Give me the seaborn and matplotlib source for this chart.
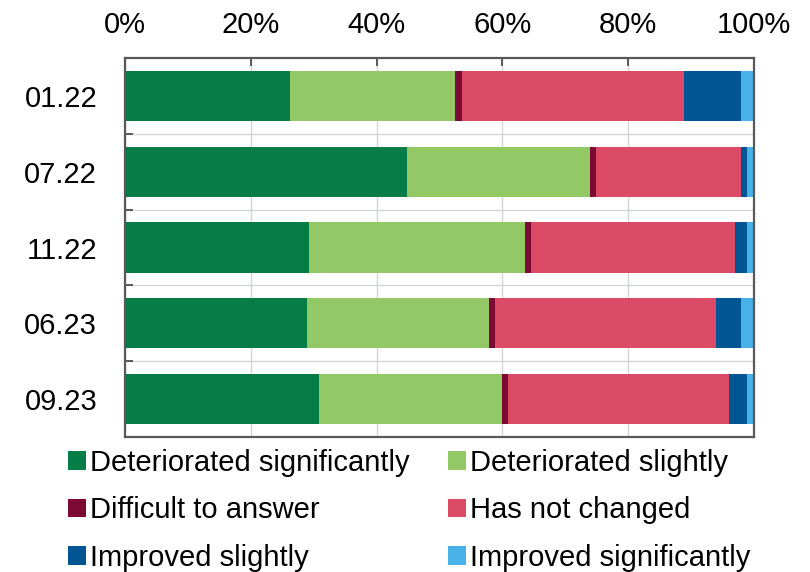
import numpy as np
import pandas as pd
import matplotlib
matplotlib.use("Agg")
import matplotlib.pyplot as plt
from matplotlib.patches import Patch
from matplotlib.ticker import FixedLocator, PercentFormatter
import seaborn as sns

# Survey waves
periods = ["01.22", "07.22", "11.22", "06.23", "09.23"]

# Share of answers per wave, %
deteriorated_significantly = [26.2, 44.9, 29.2, 28.9, 30.9]
deteriorated_slightly = [26.2, 29.0, 34.4, 29.0, 29.1]
difficult_to_answer = [1.1, 1.0, 1.0, 1.0, 0.9]
has_not_changed = [35.4, 23.1, 32.3, 35.1, 35.1]
improved_slightly = [9.0, 0.9, 2.0, 3.9, 2.9]
improved_significantly = [2.1, 1.1, 1.1, 2.1, 1.1]

answers = [
    "Deteriorated significantly",
    "Deteriorated slightly",
    "Difficult to answer",
    "Has not changed",
    "Improved slightly",
    "Improved significantly",
]
colors = ["#067D46", "#93C867", "#7C0A33", "#DC4B65", "#005592", "#48B1E8"]

shares = pd.DataFrame(
    {
        answers[0]: deteriorated_significantly,
        answers[1]: deteriorated_slightly,
        answers[2]: difficult_to_answer,
        answers[3]: has_not_changed,
        answers[4]: improved_slightly,
        answers[5]: improved_significantly,
    },
    index=periods,
)
# normalise every wave to 100 %
shares = shares.div(shares.sum(axis=1), axis=0) * 100
cumulative = shares.cumsum(axis=1)

sns.set_theme(style="white")
plt.rcParams["font.family"] = ["Liberation Sans", "DejaVu Sans"]

fig = plt.figure(figsize=(8.1, 5.72), dpi=100)
ax = fig.add_axes([0.1543, 0.236, 0.7766, 0.6626])

# stacked bars: draw running totals from the outermost segment inwards
for answer, color in reversed(list(zip(answers, colors))):
    df = pd.DataFrame({"period": periods, "value": cumulative[answer].values})
    sns.barplot(
        data=df, x="value", y="period", orient="h", color=color,
        width=0.66, saturation=1, linewidth=0, ax=ax,
    )

ax.set_xlim(0, 100)
ax.set_ylim(4.5, -0.5)
ax.set_xlabel("")
ax.set_ylabel("")

spine_color = "#595959"
for s in ax.spines.values():
    s.set_visible(True)
    s.set_color(spine_color)
    s.set_linewidth(1.6)

ax.xaxis.set_major_locator(FixedLocator([0, 20, 40, 60, 80, 100]))
ax.xaxis.set_major_formatter(PercentFormatter(decimals=0))
ax.xaxis.tick_top()
ax.tick_params(axis="x", which="major", top=True, bottom=False, direction="in",
               length=6, width=1.4, color=spine_color, labelsize=21,
               pad=14, labelcolor="black")
ax.yaxis.set_minor_locator(FixedLocator([0.5, 1.5, 2.5, 3.5]))
ax.tick_params(axis="y", which="major", left=False, labelsize=21, pad=14,
               labelcolor="black")
ax.tick_params(axis="y", which="minor", left=True, direction="in",
               length=6, width=1.4, color=spine_color)

ax.set_axisbelow(True)
ax.grid(axis="x", which="major", color="#D3D6DA", linewidth=1.0)
ax.grid(axis="y", which="minor", color="#D3D6DA", linewidth=1.0)
ax.grid(axis="y", which="major", visible=False)

# legend reads row by row: two answers per line
order = [0, 2, 4, 1, 3, 5]
handles = [Patch(facecolor=colors[i], edgecolor="none") for i in order]
labels = [answers[i] for i in order]
fig.legend(
    handles, labels, ncol=2, loc="upper left",
    bbox_to_anchor=(0.084, 0.215), frameon=False, fontsize=21,
    labelcolor="black",
    handlelength=0.62, handleheight=0.62, handletextpad=0.15,
    columnspacing=1.3, labelspacing=0.66, borderpad=0, borderaxespad=0,
)

fig.savefig("out.png", dpi=100)
